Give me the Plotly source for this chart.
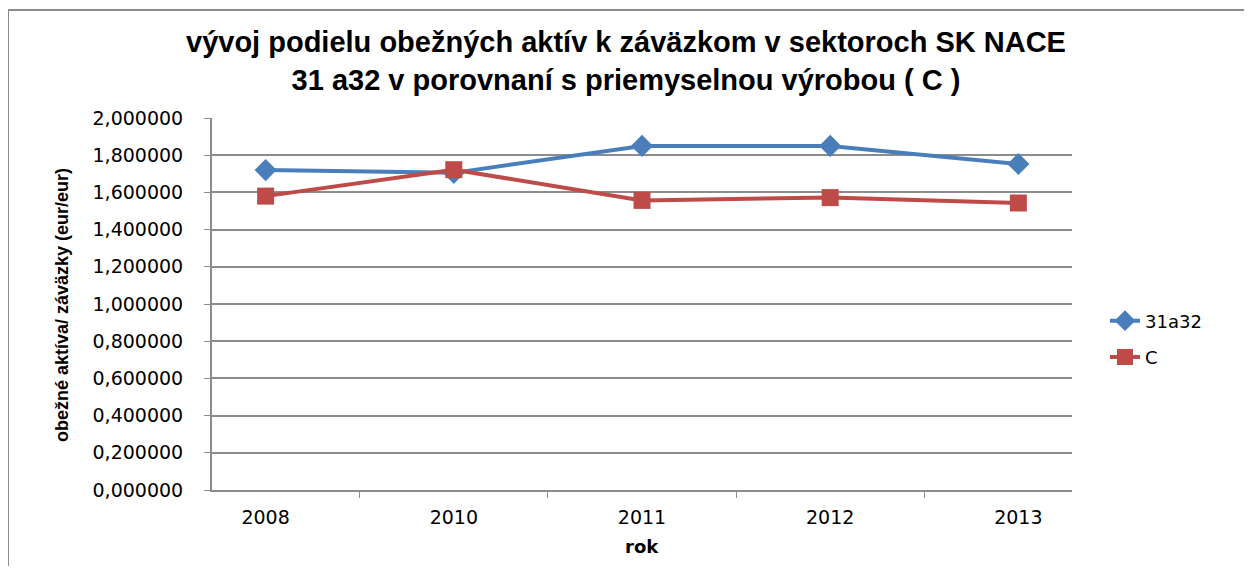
import plotly.graph_objects as go

years = ["2008", "2010", "2011", "2012", "2013"]
s_31a32 = [1.720, 1.705, 1.850, 1.850, 1.753]
s_c = [1.580, 1.722, 1.557, 1.572, 1.543]
y_ticks = [0.0, 0.2, 0.4, 0.6, 0.8, 1.0, 1.2, 1.4, 1.6, 1.8, 2.0]

OFF = 8  # browser body margin
W, H = 1252 - 2 * OFF, 574 - 2 * OFF
L, R, T, B = 212 - OFF, 1244 - 1072, 118 - OFF, 566 - 490
pw, ph = W - L - R, H - T - B

fig = go.Figure()
fig.add_trace(go.Scatter(
    x=years, y=s_31a32, name="31a32", mode="lines+markers", legendgroup="a",
    line=dict(color="#4a7ebb", width=4),
    marker=dict(symbol="diamond", size=17, color="#4a7ebb")))
fig.add_trace(go.Scatter(
    x=years, y=s_c, name="C", mode="lines+markers", legendgroup="b",
    line=dict(color="#be4b48", width=4),
    marker=dict(symbol="square", size=17, color="#be4b48")))


# screen pixel -> paper coords
def px(x):
    return (x - OFF - L) / pw


def py(y):
    return (H - B - (y - OFF)) / ph


# outer chart border (Excel chart area)
fig.add_shape(type="path", xref="paper", yref="paper",
              path=f"M {px(8)} {py(600)} L {px(8)} {py(10)} L {px(1245)} {py(10)} L {px(1245)} {py(600)}",
              line=dict(color="#8c8c8c", width=2))

fig.add_annotation(text="<b>obežné aktíva/ záväzky (eur/eur)</b>", textangle=-90,
                   xref="paper", yref="paper", x=px(62), y=py(305),
                   xanchor="center", yanchor="middle", showarrow=False,
                   font=dict(family="Liberation Sans", size=18, color="black"))
fig.add_annotation(text="<b>rok</b>", xref="paper", yref="paper", x=0.5, y=py(546),
                   xanchor="center", yanchor="middle", showarrow=False,
                   font=dict(family="DejaVu Sans", size=18, color="black"))

fig.update_layout(
    width=W, height=H,
    margin=dict(l=L, r=R, t=T, b=B),
    paper_bgcolor="white", plot_bgcolor="white",
    separators=", ",
    title=dict(text="<b>vývoj podielu obežných aktív k záväzkom v sektoroch SK NACE<br>31 a32 v porovnaní s priemyselnou výrobou ( C )</b>",
               x=0.5, xanchor="center", y=1 - (52 - OFF) / H, yanchor="middle",
               font=dict(family="Liberation Sans", size=29, color="black")),
    xaxis=dict(showgrid=False, showline=True, linecolor="#8c8c8c", linewidth=2,
               ticks="outside", tickson="boundaries", ticklen=6, tickcolor="#8c8c8c",
               ticklabelstandoff=9,
               tickfont=dict(family="DejaVu Sans", size=19, color="black")),
    yaxis=dict(range=[0, 2.0], tickvals=y_ticks, tickformat=".6f",
               showgrid=True, gridcolor="#8c8c8c", gridwidth=1.5,
               showline=True, linecolor="#8c8c8c", linewidth=2, zeroline=False,
               ticks="outside", ticklen=6, tickcolor="#8c8c8c",
               ticklabelstandoff=17,
               tickfont=dict(family="DejaVu Sans", size=19, color="black")),
    legend=dict(x=px(1105), y=py(339), xanchor="left", yanchor="middle",
                font=dict(family="DejaVu Sans", size=18, color="black"),
                tracegroupgap=10),
)

fig.write_html("out.html")
